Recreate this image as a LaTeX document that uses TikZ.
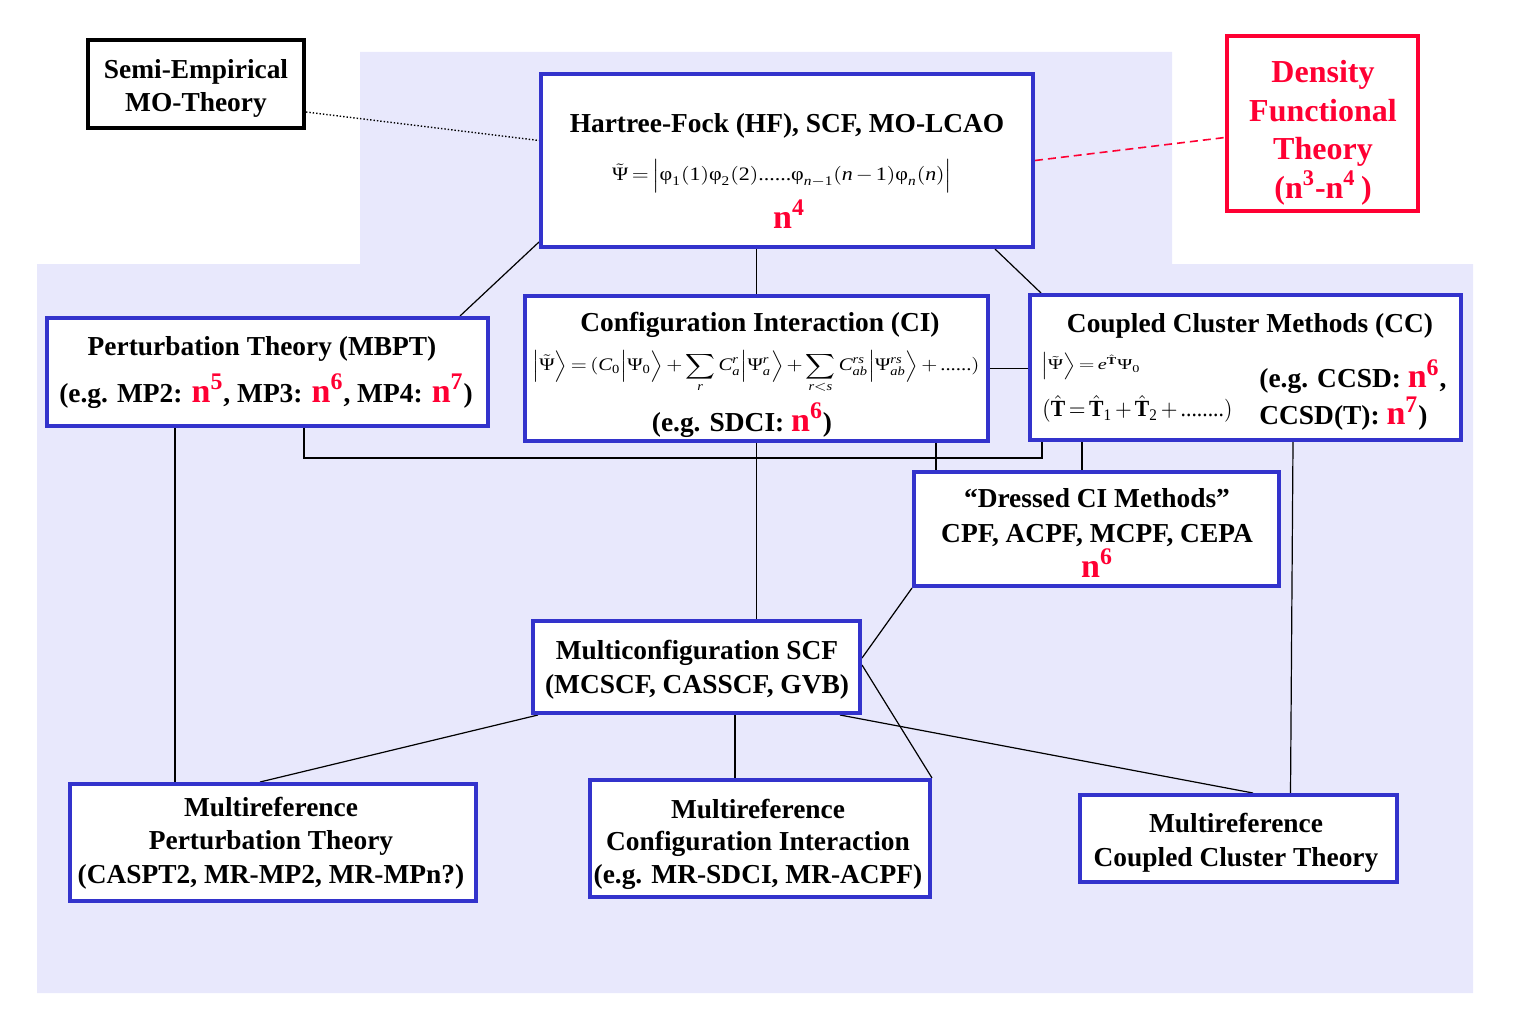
\documentclass[tikz,border=0pt]{standalone}
\usepackage{amsmath}
\usepackage{mathspec}
\usepackage{graphicx}
\setmainfont{Liberation Serif}
\setmathsfont(Digits,Latin){Liberation Serif}
\setmathrm{Liberation Serif}
\definecolor{bgblue}{RGB}{232,232,252}
\definecolor{boxblue}{RGB}{51,51,204}
\definecolor{dftred}{RGB}{255,0,51}
\newcommand{\redn}[1]{{\color{dftred}\fontsize{17}{16.75}\selectfont n\textsuperscript{#1}}}
\newcommand{\Pst}{\tilde{\text{Ψ}}}
\newcommand{\Ps}{\text{Ψ}}
\newcommand{\ph}{\text{φ}}
\newcommand{\dts}{\text{......}}
\newcommand{\fmlsp}{\medmuskip=2.5mu\relax\thickmuskip=3mu\relax}
\pgfdeclarelayer{back}
\pgfdeclarelayer{mid}
\pgfsetlayers{back,mid,main}
\begin{document}
\begin{tikzpicture}[x=0.5pt,y=-0.5pt,
  bbox/.style={draw=boxblue, line width=2pt, fill=white, inner sep=0pt},
  kbox/.style={draw=black, line width=2pt, fill=white, inner sep=0pt},
  rbox/.style={draw=dftred, line width=2pt, fill=white, inner sep=0pt},
  txt/.style={font=\fontsize{13.7}{16.75}\selectfont\bfseries, align=center, inner sep=0pt, yshift=-1.5pt},
  fml/.style={font=\fontsize{11}{13}\selectfont, inner sep=0pt},
  conn/.style={draw=black, line width=0.6pt}]
\useasboundingbox (0,0) rectangle (1519,1011);
\begin{pgfonlayer}{back}
\fill[bgblue] (360,52) -- (1172,52) -- (1172,264) -- (1473,264) -- (1473,993) -- (37,993) -- (37,264) -- (360,264) -- cycle;
\end{pgfonlayer}
% boxes
\node[kbox, minimum width=108pt, minimum height=44pt] (semi) at (196,84) {};
\node[bbox, minimum width=246pt, minimum height=86.5pt] (hf) at (787,160.5) {};
\node[rbox, minimum width=95.5pt, minimum height=87.5pt] (dft) at (1322.5,123.5) {};
\node[bbox, minimum width=220.5pt, minimum height=54pt] (mbpt) at (267.5,372) {};
\node[bbox, minimum width=231.5pt, minimum height=72.5pt] (ci) at (756.5,368.5) {};
\node[bbox, minimum width=215.5pt, minimum height=72.5pt] (cc) at (1245.5,367.5) {};
\node[bbox, minimum width=182.5pt, minimum height=57pt] (dressed) at (1096.5,529) {};
\node[bbox, minimum width=163.5pt, minimum height=46pt] (mcscf) at (696.5,667) {};
\node[bbox, minimum width=203pt, minimum height=58.5pt] (mrpt) at (273,842.5) {};
\node[bbox, minimum width=170pt, minimum height=58.5pt] (mrci) at (760,838.5) {};
\node[bbox, minimum width=158.5pt, minimum height=43.5pt] (mrcc) at (1238.5,838.5) {};
\coordinate (bus) at (0,458);
% connectors
\begin{pgfonlayer}{mid}
\draw[line width=0.7pt, densely dotted] ([yshift=-14pt]semi.east) -- ([yshift=10pt]hf.west);
\draw[draw=dftred, line width=0.8pt, dash pattern=on 4pt off 2.5pt] (hf.east) -- ([yshift=-7pt]dft.west);
\draw[conn] ([yshift=3.5pt]hf.south west) -- ([xshift=-15pt]mbpt.north east);
\draw[conn] (ci.north) -- (ci.north |- hf.south);
\draw[conn] ([xshift=-20pt]hf.south east) -- ([xshift=6.5pt]cc.north west);
\draw[conn] (ci.east) -- (ci.east -| cc.west);
\draw[conn] ([xshift=18.25pt]mbpt.south) coordinate (m1) -- (m1 |- bus) -- ([xshift=7pt]cc.south west |- bus) -- ([xshift=7pt]cc.south west);
\draw[conn] ([xshift=12pt]dressed.north west) -- ([xshift=12pt]dressed.north west |- ci.south);
\draw[conn] ([xshift=27pt]cc.south west) -- ([xshift=27pt]cc.south west |- dressed.north);
\draw[conn] (ci.south) -- (ci.south |- mcscf.north);
\draw[conn] (dressed.south west) -- ([yshift=4.5pt]mcscf.east);
\draw[conn] ([yshift=1pt]mcscf.east) -- (mrci.north east);
\draw[conn] ([xshift=3.5pt]mcscf.south west) -- ([xshift=-6.5pt]mrpt.north);
\draw[conn] ([xshift=65pt]mbpt.south west) -- ([xshift=65pt]mbpt.south west |- mrpt.north);
\draw[conn] ([xshift=19.25pt]mcscf.south) -- ([xshift=19.25pt]mcscf.south |- mrci.north);
\draw[conn] ([xshift=-11pt]mcscf.south east) -- ([xshift=7.25pt]mrcc.north);
\draw[conn] ([xshift=23.75pt]cc.south) -- ([xshift=26pt]mrcc.north);
\end{pgfonlayer}
% texts
\node[txt, font=\fontsize{13.7}{16.5}\selectfont\bfseries] (semit) at (196,85) {Semi-Empirical\\MO-Theory};
\node[txt] (hft) at (787,123) {Hartree-Fock (HF), SCF, MO-LCAO};
\node[fml] (hff) at (782,176) {\resizebox*{170pt}{17pt}{$\fmlsp\Pst=\Big|\ph_1(1)\ph_2(2)\dts\ph_{n-1}(n-1)\ph_n(n)\Big|$}};
\node[txt] (hfn) at (789,211) {\redn{4}};
\node[txt, text=dftred, font=\fontsize{16}{19.25}\selectfont\bfseries] (dftt) at (1323,130) {Density\\Functional\\Theory\\(n\textsuperscript{3}-n\textsuperscript{4}\,)};
\node[txt] (mbptt) at (262,346) {Perturbation Theory (MBPT)};
\node[txt] (mbptn) at (266,388) {(e.g. MP2: \redn{5}, MP3: \redn{6}, MP4: \redn{7})};
\node[txt] (cit) at (760,322) {Configuration Interaction (CI)};
\node[fml] (cif) at (756,372) {\resizebox*{223.5pt}{21.5pt}{$\fmlsp\Big|\Pst\Big\rangle = (C_0\Big|\Ps_0\Big\rangle + \displaystyle\sum_r C_a^r\Big|\Ps_a^r\Big\rangle + \sum_{r<s} C_{ab}^{rs}\Big|\Ps_{ab}^{rs}\Big\rangle + \dts)$}};
\node[txt] (cin) at (742,417) {(e.g. SDCI: \redn{6})};
\node[txt] (cct) at (1250,323) {Coupled Cluster Methods (CC)};
\node[fml, anchor=west] (ccf1) at (1041,366) {\resizebox*{49.5pt}{13.5pt}{$\fmlsp\Big|\Pst\Big\rangle = e^{\hat{\mathbf{T}}}\Ps_0$}};
\node[fml, anchor=west] (ccf2) at (1042,409) {\resizebox*{95pt}{13.5pt}{$\fmlsp(\hat{\mathbf{T}}=\hat{\mathbf{T}}_1+\hat{\mathbf{T}}_2+\text{........})$}};
\node[txt, align=left, anchor=west, font=\fontsize{13.7}{18.5}\selectfont\bfseries] (ccn) at (1259,392) {(e.g. CCSD: \redn{6},\\CCSD(T): \redn{7})};
\node[txt, font=\fontsize{13.7}{17.5}\selectfont\bfseries] (drt) at (1097,530) {“Dressed CI Methods”\\CPF, ACPF, MCPF, CEPA\\\redn{6}};
\node[txt, font=\fontsize{13.7}{17}\selectfont\bfseries] (mct) at (697,667) {Multiconfiguration SCF\\(MCSCF, CASSCF, GVB)};
\node[txt] (mrptt) at (271,840) {Multireference\\Perturbation Theory\\(CASPT2, MR-MP2, MR-MPn?)};
\node[txt, font=\fontsize{13.7}{16.25}\selectfont\bfseries] (mrcit) at (758,841) {Multireference\\Configuration Interaction\\(e.g. MR-SDCI, MR-ACPF)};
\node[txt] (mrcct) at (1236,840) {Multireference\\Coupled Cluster Theory};
\end{tikzpicture}
\end{document}
